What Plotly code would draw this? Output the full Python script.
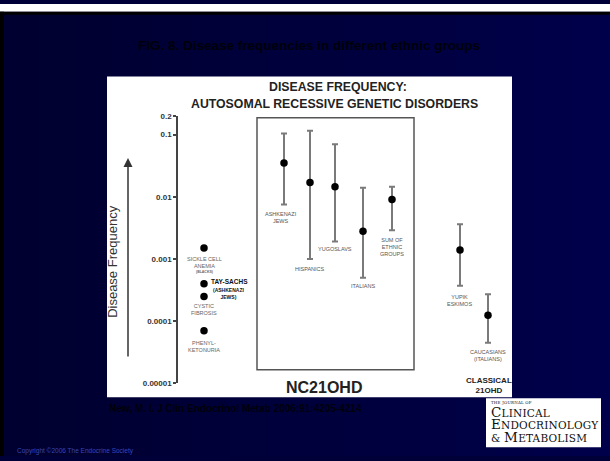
import math
import plotly.graph_objects as go

# ---- data -------------------------------------------------------------
# Single-disorder frequencies (left column)
disorders = ["SICKLE CELL<br>ANEMIA", "TAY-SACHS", "CYSTIC<br>FIBROSIS", "PHENYL-<br>KETONURIA"]
disorder_freq = [0.0015, 0.0004, 0.00025, 0.00007]

# Non-classical 21OHD by ethnic group (boxed column)
nc_groups = ["ASHKENAZI<br>JEWS", "HISPANICS", "YUGOSLAVS", "ITALIANS", "SUM OF<br>ETHNIC<br>GROUPS"]
nc_freq = [0.035, 0.017, 0.0145, 0.0028, 0.009]
nc_upper = [0.104, 0.115, 0.07, 0.014, 0.0145]
nc_lower = [0.0075, 0.001, 0.0019, 0.0005, 0.0029]

# Classical 21OHD
cl_groups = ["YUPIK<br>ESKIMOS", "CAUCASIANS<br>(ITALIANS)"]
cl_freq = [0.0014, 0.000125]
cl_upper = [0.0036, 0.00027]
cl_lower = [0.00037, 0.000045]

tick_vals = [0.2, 0.1, 0.01, 0.001, 0.0001, 0.00001]
tick_text = ["0.2", "0.1", "0.01", "0.001", "0.0001", "0.00001"]

# ---- layout helpers ---------------------------------------------------
W, H = 610, 461
SANS = "Liberation Sans, Arial, sans-serif"
SERIF = "DejaVu Serif, Liberation Serif, serif"


def py(pix):
    """paper y from a pixel row measured from the top"""
    return 1 - pix / H


# horizontal slots for each column of marks
disorder_x = [204, 204, 204, 204]
nc_x = [284, 310, 335, 363, 392]
cl_x = [460, 488]

fig = go.Figure()

err_style = dict(color="#7a7a7a", thickness=2, width=3)
marker_style = dict(color="black", size=7.5)

fig.add_trace(go.Scatter(x=disorder_x, y=disorder_freq, mode="markers",
                         marker=marker_style, showlegend=False, cliponaxis=False))
fig.add_trace(go.Scatter(
    x=nc_x, y=nc_freq, mode="markers", marker=marker_style, showlegend=False, cliponaxis=False,
    error_y=dict(type="data", symmetric=False,
                 array=[u - v for u, v in zip(nc_upper, nc_freq)],
                 arrayminus=[v - l for v, l in zip(nc_freq, nc_lower)], **err_style)))
fig.add_trace(go.Scatter(
    x=cl_x, y=cl_freq, mode="markers", marker=marker_style, showlegend=False, cliponaxis=False,
    error_y=dict(type="data", symmetric=False,
                 array=[u - v for u, v in zip(cl_upper, cl_freq)],
                 arrayminus=[v - l for v, l in zip(cl_freq, cl_lower)], **err_style)))

shapes = []

# navy slide background, slightly bluer towards the right
n_bands = 16
for i in range(n_bands):
    b = int(0x30 + (0x4a - 0x30) * i / (n_bands - 1))
    shapes.append(dict(type="rect", xref="paper", yref="paper",
                       x0=i / n_bands, x1=(i + 1) / n_bands + 0.002, y0=0, y1=1,
                       fillcolor=f"rgb(0,0,{b})", line=dict(width=0), layer="below"))

shapes += [
    # white strip and dark frame around the slide
    dict(type="rect", xref="paper", yref="paper", x0=0, x1=1, y0=py(8), y1=1,
         fillcolor="white", line=dict(width=0), layer="below"),
    dict(type="rect", xref="paper", yref="paper", x0=0, x1=1, y0=py(11), y1=py(8),
         fillcolor="black", line=dict(width=0), layer="below"),
    dict(type="rect", xref="paper", yref="paper", x0=0, x1=4 / W, y0=0, y1=py(8),
         fillcolor="black", line=dict(width=0), layer="below"),
    # white chart panel
    dict(type="rect", xref="x", yref="paper", x0=107, x1=512, y0=py(401), y1=py(74),
         fillcolor="white", line=dict(width=0), layer="below"),
    # box around the non-classical group
    dict(type="rect", xref="x", yref="paper", x0=257, x1=414, y0=py(373), y1=py(116),
         fillcolor="rgba(0,0,0,0)", line=dict(color="#555555", width=1.5), layer="below"),
    # journal logo panel
    dict(type="rect", xref="x", yref="paper", x0=486, x1=601, y0=py(452), y1=py(402),
         fillcolor="white", line=dict(width=0), layer="below"),
]

ann = []


def label(text, x, ypix, size=6, color="#555555", bold=False, font=SANS, **kw):
    t = f"<b>{text}</b>" if bold else text
    opts = dict(xanchor="center", yanchor="middle")
    opts.update(kw)
    ann.append(dict(text=t, x=x, y=py(ypix), xref="x", yref="paper", showarrow=False,
                    font=dict(family=font, size=size, color=color), **opts))


# slide title and citation (dark text on the navy background)
label("FIG. 8. Disease frequencies in different ethnic groups", 309, 42, size=13.5,
      color="#00000a", bold=True)
label("New, M. I. J Clin Endocrinol Metab 2006;91:4205-4214", 107, 413, size=10,
      color="#00000a", bold=True, xanchor="left")
label("Copyright ©2006 The Endocrine Society", 15, 456, size=6.5, color="#3a46b8",
      xanchor="left")

# chart heading
label("DISEASE FREQUENCY:", 338, 85, size=12.3, color="#222222", bold=True)
label("AUTOSOMAL RECESSIVE GENETIC DISORDERS", 334, 102, size=12.3, color="#222222", bold=True)

# y-axis title and arrow
label("Disease Frequency", 113, 263, size=13, color="#333333", textangle=-90)
ann.append(dict(x=128, y=py(157), xref="x", yref="paper", ax=0, ay=200, axref="pixel",
                ayref="pixel", text="", showarrow=True, arrowhead=2, arrowsize=1.2,
                arrowwidth=1.5, arrowcolor="#333333"))

# labels under the single disorders
label(disorders[0], 204, 263.5, size=5.5, color="#666666")
label("(BLACKS)", 204, 273, size=3.5, color="#666666", bold=True)
label(disorders[1], 229, 283, size=6.5, color="#111111", bold=True)
label("(ASHKENAZI<br>JEWS)", 228, 295, size=5, color="#111111", bold=True)
label(disorders[2], 204, 312, size=5.5, color="#666666")
label(disorders[3], 204, 349, size=5.5, color="#666666")

# labels in the boxed group
nc_label_y = [218, 270, 250, 288, 248]
for name, x, y in zip(nc_groups, nc_x, nc_label_y):
    label(name, x - 3 if "ASHK" in name else x, y, size=5.5, color="#555555")

# classical group labels
label(cl_groups[0], 459, 302, size=5.5, color="#555555")
label(cl_groups[1], 488, 359, size=5.5, color="#555555")

# column titles
label("NC21OHD", 324, 391, size=16, color="#222222", bold=True)
label("CLASSICAL<br>21OHD", 489, 389, size=8, color="#222222", bold=True)


# journal logo as one block: large initials, small-cap remainder
def small_caps(word):
    return (f"<span style='font-size:13.5px'>{word[0]}</span>"
            f"<span style='font-size:10.5px'>{word[1:]}</span>")


logo = ("<span style='font-size:4px'>THE JOURNAL OF</span><br>"
        + small_caps("CLINICAL") + "<br>"
        + small_caps("ENDOCRINOLOGY") + "<br>"
        + "<span style='font-size:10.5px'>&amp; </span>" + small_caps("METABOLISM"))
label(f"<span style='letter-spacing:0.2px'>{logo}</span>", 489, 427, size=9.8,
      color="#111111", font=SERIF, xanchor="left", align="left")

fig.update_layout(
    width=W, height=H, margin=dict(l=0, r=0, t=0, b=0),
    paper_bgcolor="#000038", plot_bgcolor="rgba(0,0,0,0)",
    shapes=shapes, annotations=ann,
    xaxis=dict(range=[0, W], domain=[0, 1], visible=False, fixedrange=True),
    yaxis=dict(type="log", range=[-5, math.log10(0.2)], domain=[py(387), py(114)],
               anchor="free", position=177 / W, showgrid=False, zeroline=False,
               showline=True, linecolor="#444444", linewidth=1.5,
               ticks="outside", ticklen=3, tickwidth=1.5, tickcolor="#444444",
               tickvals=tick_vals, ticktext=[f"<b>{t}</b>" for t in tick_text],
               tickfont=dict(family=SANS, size=8, color="#333333"),
               fixedrange=True),
    showlegend=False,
)

fig.write_html("out.html")
